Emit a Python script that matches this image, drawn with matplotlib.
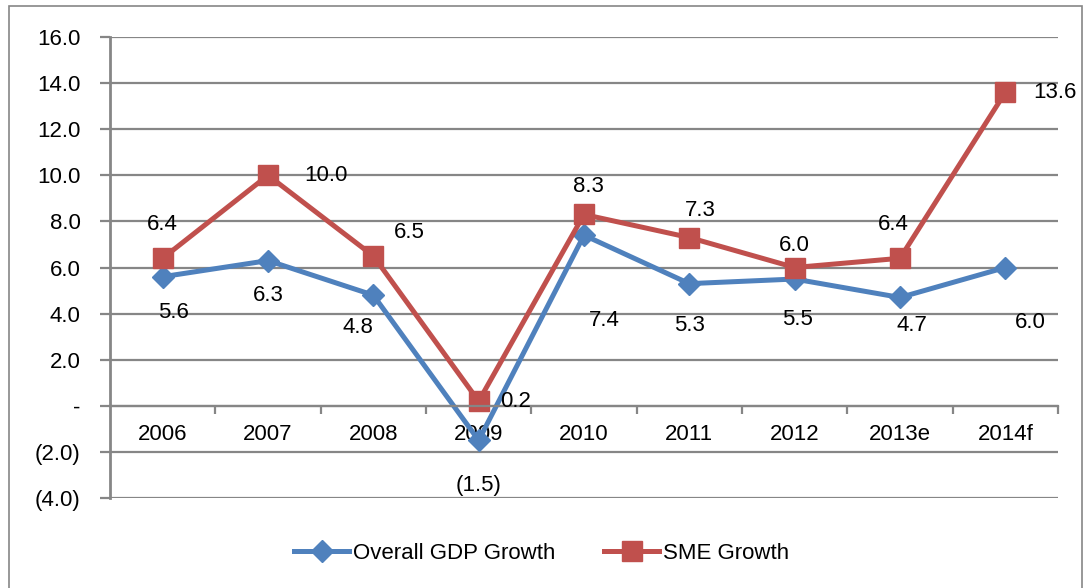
import matplotlib
matplotlib.use("Agg")
import matplotlib.pyplot as plt
from matplotlib.patches import Rectangle
from matplotlib.ticker import FuncFormatter, MultipleLocator

plt.rcParams["font.family"] = ["Liberation Sans", "DejaVu Sans"]

years = ["2006", "2007", "2008", "2009", "2010", "2011", "2012", "2013e", "2014f"]
gdp = [5.6, 6.3, 4.8, -1.5, 7.4, 5.3, 5.5, 4.7, 6.0]
sme = [6.4, 10.0, 6.5, 0.2, 8.3, 7.3, 6.0, 6.4, 13.6]

# label offsets in pixels (Excel labels were nudged by hand)
gdp_off = [(11, -36), (0, -35), (-15, -32), (0, -45), (20, -85),
           (0, -42), (3, -40), (12, -28), (25, -55)]
sme_off = [(0, 34), (58, 0), (36, 23), (37, 0), (4, 28),
           (11, 27), (0, 22), (-7, 34), (50, 0)]

BLUE = "#4F81BD"
RED = "#C0504D"
GRID = "#868686"
FS = 16


def fmt(v, _pos=None):
    if abs(v) < 1e-9:
        return "-"
    if v < 0:
        return f"({-v:.1f})"
    return f"{v:.1f}"


fig = plt.figure(figsize=(10.87, 5.88), dpi=100)
fig.patches.append(Rectangle((9 / 1087, -0.1), (1082 - 9) / 1087, 1.1 - 6 / 588,
                             transform=fig.transFigure, fill=False,
                             edgecolor=GRID, lw=1.2))
ax = fig.add_axes([110 / 1087, 1 - 498 / 588, (1058 - 110) / 1087, (498 - 37) / 588])

x = list(range(len(years)))
ax.plot(x, gdp, color=BLUE, lw=3.6, marker="D", ms=11, label="Overall GDP Growth",
        solid_joinstyle="miter")
ax.plot(x, sme, color=RED, lw=3.6, marker="s", ms=14, label="SME Growth",
        solid_joinstyle="miter")

for i, v in enumerate(gdp):
    ax.annotate(fmt(v), (i, v), xytext=gdp_off[i], textcoords="offset pixels",
                ha="center", va="center", fontsize=FS)
for i, v in enumerate(sme):
    ax.annotate(fmt(v), (i, v), xytext=sme_off[i], textcoords="offset pixels",
                ha="center", va="center", fontsize=FS)

ax.set_xlim(-0.5, len(years) - 0.5)
ax.set_ylim(-4, 16)
ax.yaxis.set_major_locator(MultipleLocator(2))
ax.yaxis.set_major_formatter(FuncFormatter(fmt))
ax.grid(axis="y", color=GRID, lw=1.6)
ax.set_axisbelow(True)

for s in ("top", "right"):
    ax.spines[s].set_visible(False)
ax.spines["left"].set_color(GRID)
ax.spines["left"].set_linewidth(2)
ax.spines["bottom"].set_position(("data", 0))
ax.spines["bottom"].set_color(GRID)
ax.spines["bottom"].set_linewidth(1.6)

ax.set_xticks([i + 0.5 for i in range(len(years))])
ax.set_xticklabels([])
ax.set_xticks(x, minor=True)
ax.set_xticklabels(years, minor=True)
ax.tick_params(axis="x", which="major", direction="out", length=6, width=1.6, color=GRID)
ax.tick_params(axis="x", which="minor", length=0, pad=13, labelsize=FS)
ax.tick_params(axis="y", length=7, width=1.6, color=GRID, labelsize=FS, pad=14)

ax.legend(loc="center", bbox_to_anchor=(0.455, -0.12), ncol=2, frameon=False,
          fontsize=FS, handlelength=2.5, columnspacing=2.2, handletextpad=0.15)

fig.savefig("out.png", dpi=100)
